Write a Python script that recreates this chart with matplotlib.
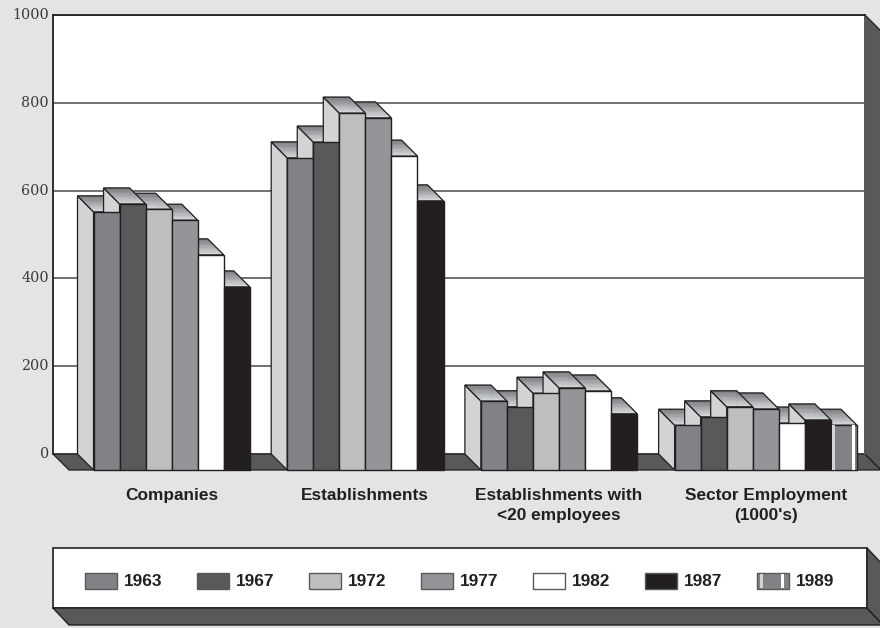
import numpy as np
import matplotlib
matplotlib.use("Agg")
import matplotlib.pyplot as plt
from matplotlib.patches import Polygon, Rectangle

categories = ["Companies", "Establishments", "Establishments with\n<20 employees", "Sector Employment\n(1000's)"]
years = ["1963", "1967", "1972", "1977", "1982", "1987", "1989"]
values_1963 = [588, 711, 157, 102]
values_1967 = [606, 747, 144, 121]
values_1972 = [594, 813, 175, 144]
values_1977 = [569, 802, 187, 139]
values_1982 = [490, 715, 180, 107]
values_1987 = [417, 613, 128, 114]
values_1989 = [None, None, None, 102]
series = [values_1963, values_1967, values_1972, values_1977, values_1982, values_1987, values_1989]
y_ticks = [0, 200, 400, 600, 800, 1000]

colors = ["#808285", "#58595b", "#bcbec0", "#939598", "#ffffff", "#231f20", "#808285"]
BG, FLOOR, SIDE, INK = "#e3e4e6", "#58595b", "#d1d3d4", "#231f20"

W, H = 880, 628
fig = plt.figure(figsize=(W / 100, H / 100), dpi=100, facecolor=BG)

# Page-sized layer in pixel units for the legend panel
page = fig.add_axes([0, 0, 1, 1], zorder=0)
page.set_xlim(0, W)
page.set_ylim(H, 0)
page.axis("off")

# Back wall of the chart; one x unit is the distance between two groups
group_px = 193.7
first_px = 93.5
left_px, right_px, top_px, base_px = 53, 865, 15, 454
ax = fig.add_axes([left_px / W, 1 - base_px / H, (right_px - left_px) / W, (base_px - top_px) / H], zorder=1)
ax.set_xlim((left_px - first_px) / group_px, (right_px - first_px) / group_px)
ax.set_ylim(0, 1000)
ax.set_facecolor("white")

depth_x = 16 / group_px
depth_y = 16 / (base_px - top_px) * 1000
bar_w = 26.05 / group_px
xmin, xmax = ax.get_xlim()

ax.set_xticks([])
ax.set_yticks(y_ticks)
ax.tick_params(axis="y", length=0, pad=3, labelsize=10.3, labelcolor="#3a3a3c")
for lab in ax.get_yticklabels():
    lab.set_family("DejaVu Serif")
    lab.set_verticalalignment("center")
ax.grid(axis="y", color="#58595b", lw=1.2, zorder=1)
ax.set_axisbelow(True)
for name, sp in ax.spines.items():
    sp.set_color(INK)
    sp.set_linewidth(1.3)
ax.spines["bottom"].set_visible(False)
ax.spines["right"].set_color("#58595b")


def poly(points, face, edge=INK, lw=0.9, z=3, a=ax):
    a.add_patch(Polygon(points, closed=True, facecolor=face, edgecolor=edge, lw=lw, zorder=z,
                        clip_on=False, joinstyle="miter"))


# Floor and right-hand wall
poly([(xmin, 0), (xmax, 0), (xmax + depth_x, -depth_y), (xmin + depth_x, -depth_y)], FLOOR, z=2)
poly([(xmax, 0), (xmax, 1000), (xmax + depth_x, 1000 - depth_y), (xmax + depth_x, -depth_y)], FLOOR, z=2)


def top_face(x, v, z):
    # Lid shaded in bands from the dark rear edge to the light front edge
    bands = 12
    shades = np.linspace(0, 1, bands)
    dark, light = np.array([0.47, 0.48, 0.49]), np.array([0.83, 0.84, 0.85])
    for k in range(bands):
        t0, t1 = k / bands, (k + 1) / bands
        xa, xb = x - depth_x * (1 - t0), x - depth_x * (1 - t1)
        ya, yb = v - depth_y * t0, v - depth_y * t1
        shade = dark + (light - dark) * shades[k]
        poly([(xa, ya), (xa + bar_w, ya), (xb + bar_w, yb), (xb, yb)],
             shade, edge=shade, lw=0.4, z=z)
    poly([(x - depth_x, v), (x - depth_x + bar_w, v), (x + bar_w, v - depth_y), (x, v - depth_y)],
         "none", z=z)


# Lids and side faces go shortest first so that taller neighbours hide them
z = 3.0
for g in range(len(categories)):
    entries = [(s[g], i) for i, s in enumerate(series) if s[g] is not None]
    for v, i in sorted(entries):
        x = g + i * bar_w
        poly([(x - depth_x, v), (x, v - depth_y), (x, -depth_y), (x - depth_x, 0)], SIDE, z=z)
        top_face(x, v, z)
        z += 0.01

# Front faces sit on the nearest plane, in front of every lid and side
for i, s in enumerate(series):
    for g, v in enumerate(s):
        if v is None:
            continue
        x = g + i * bar_w
        ax.bar(x, v, bottom=-depth_y, width=bar_w, align="edge", color=colors[i],
               edgecolor=INK, lw=1.0, zorder=5, clip_on=False)
        if years[i] == "1989":
            ax.bar(x + bar_w * 0.05, v, bottom=-depth_y, width=bar_w * 0.1, align="edge",
                   color="#d1d3d4", lw=0, zorder=5.1, clip_on=False)
            ax.bar(x + bar_w * 0.8, v, bottom=-depth_y, width=bar_w * 0.13, align="edge",
                   color="white", lw=0, zorder=5.1, clip_on=False)

label_font = dict(family="Liberation Sans", weight="bold", size=12.4, color=INK)
centers = [first_px + 78, first_px + group_px + 78, first_px + 2 * group_px + 78, first_px + 3 * group_px + 91]
for cx, text in zip(centers, categories):
    page.text(cx, 488, text, ha="center", va="top", linespacing=1.38, **label_font)

# Legend panel with its raised edge
poly([(53, 548), (867, 548), (867, 608), (53, 608)], "white", lw=1.2, z=2, a=page)
poly([(53, 608), (867, 608), (883, 625), (69, 625)], FLOOR, lw=1.0, z=2, a=page)
poly([(867, 548), (883, 565), (883, 625), (867, 608)], FLOOR, lw=1.0, z=2, a=page)
for i, year in enumerate(years):
    sx = 85 + 112 * i
    page.add_patch(Rectangle((sx, 573), 32, 16, facecolor=colors[i], edgecolor="#58595b", lw=1.0, zorder=3))
    if year == "1989":
        page.add_patch(Rectangle((sx + 3, 574), 3, 14, facecolor="#d1d3d4", lw=0, zorder=4))
        page.add_patch(Rectangle((sx + 24, 574), 3, 14, facecolor="white", lw=0, zorder=4))
    page.text(sx + 39, 581, year, ha="left", va="center", **label_font)

fig.savefig("out.png", dpi=100, facecolor=BG)
